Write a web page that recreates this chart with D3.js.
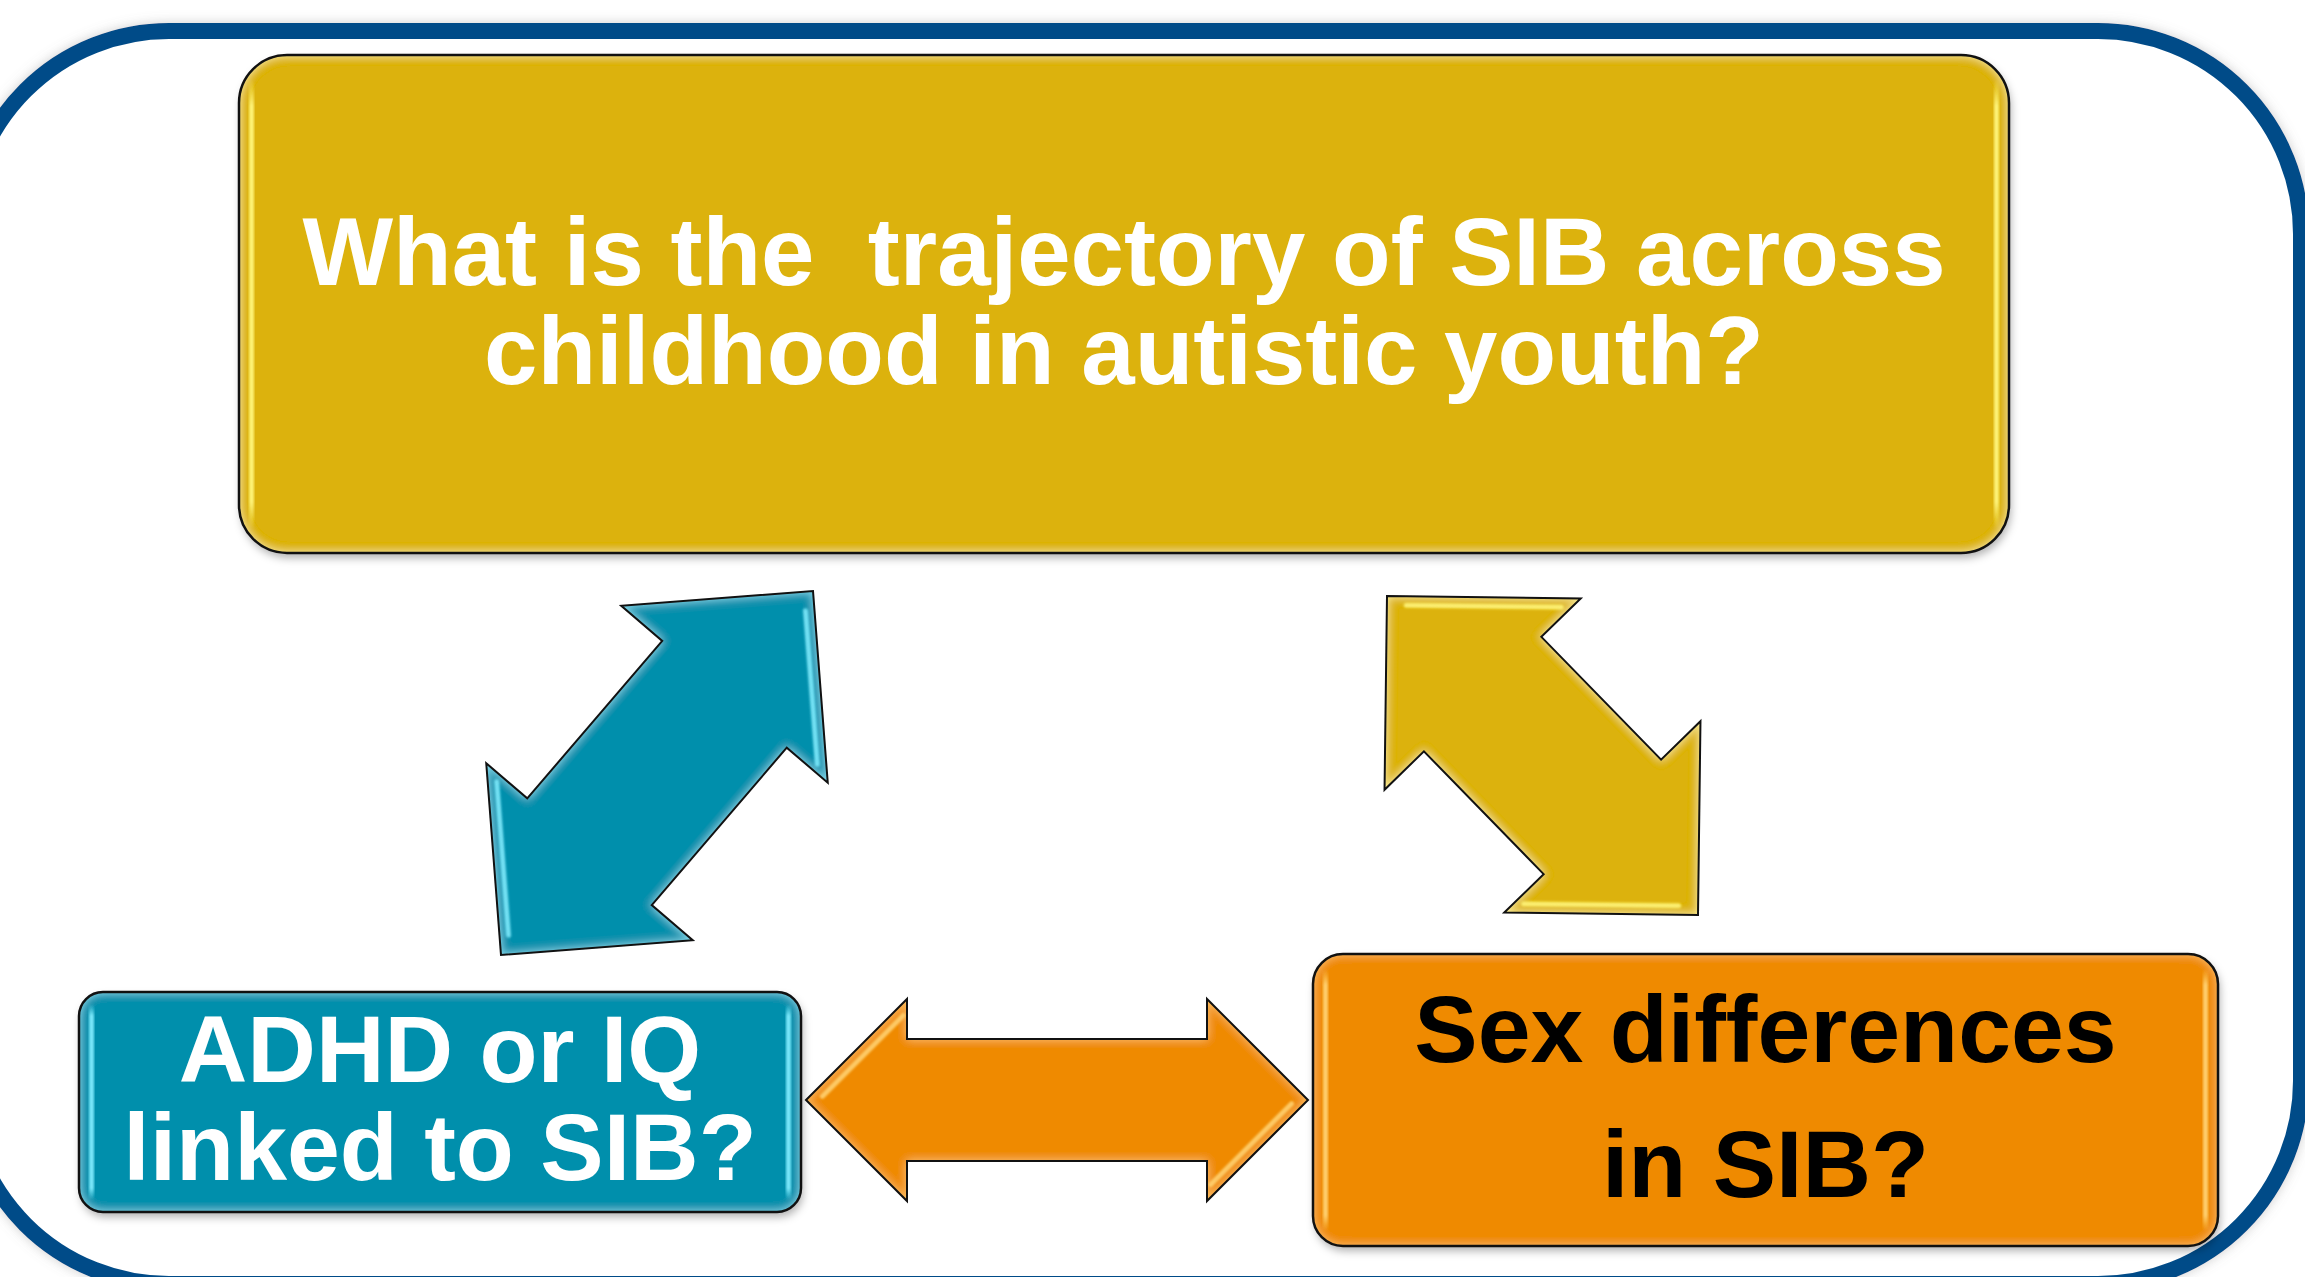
<!DOCTYPE html>
<html>
<head>
<meta charset="utf-8">
<script src="https://cdn.jsdelivr.net/npm/d3@7"></script>
<style>
  html, body { margin: 0; padding: 0; background: #fff; overflow: hidden; }
  text { font-family: "Liberation Sans", Arial, sans-serif; font-weight: bold; }
</style>
</head>
<body>
<svg id="chart"></svg>
<script>
// diagram content
const boxNames = ["trajectory", "adhd", "sex"]
const boxLines = [
  ["What is the  trajectory of SIB across", "childhood in autistic youth?"],
  ["ADHD or IQ", "linked to SIB?"],
  ["Sex differences", "in SIB?"]
]
// which boxes each double arrow joins
const arrowNames = ["adhd-trajectory", "trajectory-sex", "adhd-sex"]
const arrowLinks = [["adhd", "trajectory"], ["trajectory", "sex"], ["adhd", "sex"]]

// styles
const palette = {
  frame: "#034c88",
  trajectory: { fill: "#dcb20a", glow: "#fff6a0", shine: "#fff57a", text: "#ffffff" },
  adhd: { fill: "#028fac", glow: "#8de6f7", shine: "#7eeafc", text: "#ffffff" },
  sex: { fill: "#ef8a03", glow: "#ffc868", shine: "#ffd070", text: "#000000" }
}
const arrowStyle = { "adhd-trajectory": "adhd", "trajectory-sex": "trajectory", "adhd-sex": "sex" }

// layout (pixels)
const W = 2305, H = 1277
const frame = { x: -34, y: 31, w: 2335, h: 1253, r: 203, stroke: 16 }
const boxLayout = {
  trajectory: { x: 239, y: 55, w: 1770, h: 498, r: 48, size: 96, baselines: [285, 384] },
  adhd: { x: 79, y: 992, w: 722, h: 220, r: 24, size: 95, baselines: [1082, 1180] },
  sex: { x: 1313, y: 954, w: 905, h: 292, r: 30, size: 95, baselines: [1062, 1197] }
}
const arrowLayout = {
  "adhd-trajectory": { from: [501, 955], to: [813, 591], head: 136, half: 136, shaft: 82 },
  "trajectory-sex": { from: [1387, 596], to: [1698, 915], head: 137, half: 137, shaft: 82 },
  "adhd-sex": { from: [806, 1100], to: [1308, 1100], head: 101, half: 101, shaft: 61 }
}

const svg = d3.select("#chart").attr("width", W).attr("height", H)
const defs = svg.append("defs")

function innerGlow(id, colour, sd, opacity) {
  const f = defs.append("filter").attr("id", id)
    .attr("x", "-5%").attr("y", "-5%").attr("width", "110%").attr("height", "110%")
  f.append("feGaussianBlur").attr("in", "SourceAlpha").attr("stdDeviation", sd).attr("result", "blur")
  f.append("feComposite").attr("in", "SourceAlpha").attr("in2", "blur")
    .attr("operator", "arithmetic").attr("k2", 1).attr("k3", -1).attr("result", "rim")
  f.append("feFlood").attr("flood-color", colour).attr("flood-opacity", opacity).attr("result", "flood")
  f.append("feComposite").attr("in", "flood").attr("in2", "rim").attr("operator", "in").attr("result", "glow")
  const m = f.append("feMerge")
  m.append("feMergeNode").attr("in", "SourceGraphic")
  m.append("feMergeNode").attr("in", "glow")
}
boxNames.forEach(n => innerGlow("glow-" + n, palette[n].glow, 5, 1.6))

defs.append("filter").attr("id", "shadow")
  .attr("x", "-5%").attr("y", "-5%").attr("width", "110%").attr("height", "120%")
  .append("feDropShadow").attr("dx", 2).attr("dy", 5).attr("stdDeviation", 4)
  .attr("flood-color", "#000").attr("flood-opacity", 0.3)

defs.append("filter").attr("id", "frameShadow")
  .attr("x", "-5%").attr("y", "-5%").attr("width", "110%").attr("height", "110%")
  .append("feDropShadow").attr("dx", 0).attr("dy", 0).attr("stdDeviation", 6)
  .attr("flood-color", "#777").attr("flood-opacity", 0.35)

defs.append("filter").attr("id", "soft")
  .append("feGaussianBlur").attr("stdDeviation", 1.1)

boxNames.forEach(n => {
  const g = defs.append("linearGradient").attr("id", "shine-" + n)
    .attr("x1", 0).attr("y1", 0).attr("x2", 0).attr("y2", 1)
  g.append("stop").attr("offset", "0%").attr("stop-color", palette[n].shine).attr("stop-opacity", 0)
  g.append("stop").attr("offset", "6%").attr("stop-color", palette[n].shine).attr("stop-opacity", 0.95)
  g.append("stop").attr("offset", "94%").attr("stop-color", palette[n].shine).attr("stop-opacity", 0.95)
  g.append("stop").attr("offset", "100%").attr("stop-color", palette[n].shine).attr("stop-opacity", 0)
})

// outer frame
svg.append("rect")
  .attr("x", frame.x).attr("y", frame.y).attr("width", frame.w).attr("height", frame.h)
  .attr("rx", frame.r).attr("ry", frame.r)
  .attr("fill", "#fff").attr("stroke", palette.frame).attr("stroke-width", frame.stroke)
  .attr("filter", "url(#frameShadow)")

// arrows
const line = d3.line().curve(d3.curveLinearClosed)

function outline(len, head, half, shaft) {
  return [[0, 0], [head, -half], [head, -shaft], [len - head, -shaft], [len - head, -half],
    [len, 0], [len - head, half], [len - head, shaft], [head, shaft], [head, half]]
}

// segment moved inward by d and trimmed at both ends
function inset(p, q, inside, d, t0, t1) {
  const dx = q[0] - p[0], dy = q[1] - p[1], n = Math.hypot(dx, dy)
  let nx = -dy / n, ny = dx / n
  const mx = (p[0] + q[0]) / 2, my = (p[1] + q[1]) / 2
  if ((inside[0] - mx) * nx + (inside[1] - my) * ny < 0) { nx = -nx; ny = -ny }
  const a = [p[0] + dx * t0 + nx * d, p[1] + dy * t0 + ny * d]
  const b = [p[0] + dx * t1 + nx * d, p[1] + dy * t1 + ny * d]
  return [a, b]
}

function shines(len, head, half, shaft) {
  const mid = (half + shaft) / 2
  return [
    inset([0, 0], [head, -half], [head, 0], 9, 0.1, 0.9),
    inset([len, 0], [len - head, half], [len - head, 0], 9, 0.1, 0.9),
    inset([head, -half], [head, -shaft], [head - 20, -mid], 7, 0.35, 1.0),
    inset([head, half], [head, shaft], [head - 20, mid], 7, 0.35, 1.0),
    inset([len - head, -half], [len - head, -shaft], [len - head + 20, -mid], 7, 0.35, 1.0),
    inset([len - head, half], [len - head, shaft], [len - head + 20, mid], 7, 0.35, 1.0)
  ]
}

arrowNames.forEach((name, i) => {
  const a = arrowLayout[name]
  const st = palette[arrowStyle[name]]
  const dx = a.to[0] - a.from[0], dy = a.to[1] - a.from[1]
  const len = Math.hypot(dx, dy)
  const angle = Math.atan2(dy, dx) * 180 / Math.PI
  const pts = outline(len, a.head, a.half, a.shaft)
  const g = svg.append("g")
    .attr("class", "arrow " + arrowLinks[i].join("-"))
    .attr("transform", `translate(${a.from[0]},${a.from[1]}) rotate(${angle})`)
  g.append("path").attr("d", line(pts)).attr("fill", st.fill)
    .attr("filter", `url(#glow-${arrowStyle[name]})`)
  g.selectAll("path.shine").data(shines(len, a.head, a.half, a.shaft)).join("path")
    .attr("class", "shine")
    .attr("d", d => d3.line()(d))
    .attr("stroke", st.shine).attr("stroke-width", 5).attr("stroke-linecap", "round")
    .attr("fill", "none").attr("opacity", 0.9).attr("filter", "url(#soft)")
  g.append("path").attr("d", line(pts)).attr("fill", "none")
    .attr("stroke", "#111").attr("stroke-width", 2).attr("stroke-linejoin", "miter")
})

// boxes
boxNames.forEach((name, i) => {
  const b = boxLayout[name]
  const st = palette[name]
  const g = svg.append("g").attr("class", "box " + name)
  g.append("rect")
    .attr("x", b.x).attr("y", b.y).attr("width", b.w).attr("height", b.h)
    .attr("rx", b.r).attr("ry", b.r)
    .attr("fill", st.fill).attr("filter", "url(#shadow)")
  g.append("rect")
    .attr("x", b.x).attr("y", b.y).attr("width", b.w).attr("height", b.h)
    .attr("rx", b.r).attr("ry", b.r)
    .attr("fill", st.fill).attr("filter", `url(#glow-${name})`)
  ;[b.x + 10, b.x + b.w - 15].forEach(x => {
    g.append("rect")
      .attr("x", x).attr("y", b.y + b.r * 0.5).attr("width", 5).attr("height", b.h - b.r)
      .attr("rx", 2.5)
      .attr("fill", `url(#shine-${name})`).attr("filter", "url(#soft)")
  })
  g.append("rect")
    .attr("x", b.x).attr("y", b.y).attr("width", b.w).attr("height", b.h)
    .attr("rx", b.r).attr("ry", b.r)
    .attr("fill", "none").attr("stroke", "#111").attr("stroke-width", 2.5)
  g.selectAll("text").data(boxLines[i]).join("text")
    .attr("x", b.x + b.w / 2)
    .attr("y", (d, j) => b.baselines[j])
    .attr("text-anchor", "middle")
    .attr("font-size", b.size)
    .attr("fill", st.text)
    .style("white-space", "pre")
    .text(d => d)
})
</script>
</body>
</html>
